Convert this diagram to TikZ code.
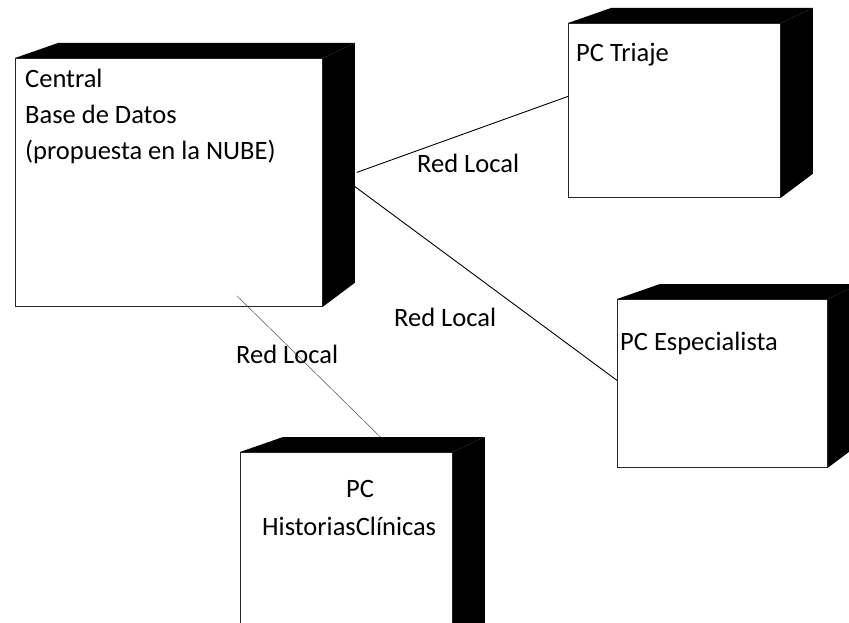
\documentclass[tikz,border=0pt]{standalone}
\usepackage{fontspec}
\setmainfont{Carlito}
\tikzset{
  front/.style={draw=black!85, line width=0.8pt, fill=white, inner sep=0pt, anchor=north west},
  darkface/.style={fill=black},
  lbl/.style={font=\fontsize{26.5}{32}\selectfont, inner sep=0pt, anchor=base west},
  link/.style={line width=0.9pt, black},
  faintlink/.style={line width=0.5pt, black!70},
}
% A deployment node: white front face with black top and right faces.
% #1 name, #2 x, #3 y (top-left), #4 width, #5 height
\newcommand\deploybox[5]{%
  \node[front, minimum width=#4pt, minimum height=#5pt] (#1) at (#2,#3) {};
  \fill[darkface] (#1.north west) -- ++(43,-15) -- ([shift={(32,-15)}]#1.north east) -- (#1.north east) -- cycle;
  \fill[darkface] (#1.north east) -- ++(32,-15) -- ([shift={(32,-24)}]#1.south east) -- (#1.south east) -- cycle;
}
\begin{document}
\begin{tikzpicture}[x=1pt, y=-1pt]
  \useasboundingbox (0,0) rectangle (849,623);
  \clip (0,0) rectangle (849,623);

  % boxes
  \deploybox{central}{15}{58}{307}{248}
  \deploybox{triaje}{568}{23}{212}{174}
  \deploybox{espec}{617}{299}{210}{168}
  \deploybox{historias}{240}{452}{212}{200}

  % connectors
  \draw[link] ([shift={(34,-10)}]central.east) -- ([shift={(0,-14)}]triaje.west);
  \draw[link] ([shift={(21,-4)}]central.east) -- ([shift={(0,-3)}]espec.west);
  \draw[faintlink] ([shift={(68,-11)}]central.south) -- ([shift={(34,-15)}]historias.north);

  % texts
  \node[lbl] (t1) at (25,88) {Central};
  \node[lbl] (t2) at (25,124) {Base de Datos};
  \node[lbl] (t3) at (25,160) {(propuesta en la NUBE)};
  \node[lbl] (t4) at (576,62) {PC Triaje};
  \node[lbl] (t5) at (620,350) {PC Especialista};
  \node[lbl, anchor=base] (t6) at (360,497) {PC};
  \node[lbl] (t7) at (262,535) {HistoriasClínicas};

  \node[lbl] (r1) at (417,172) {Red Local};
  \node[lbl] (r2) at (394,326) {Red Local};
  \node[lbl] (r3) at (236,363) {Red Local};
\end{tikzpicture}
\end{document}
